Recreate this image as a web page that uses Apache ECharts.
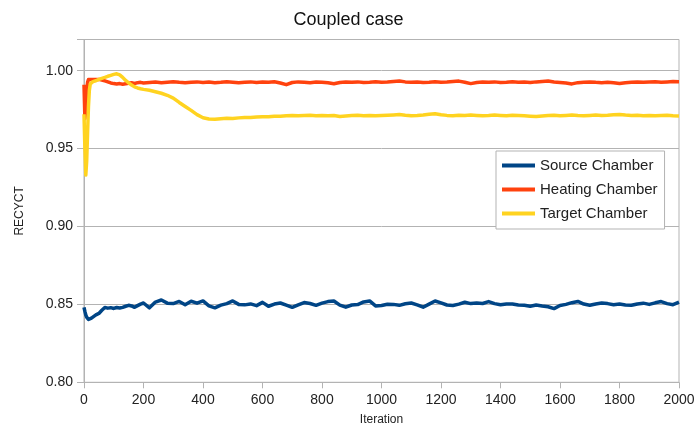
<!DOCTYPE html>
<html>
<head>
<meta charset="utf-8">
<script src="https://cdn.jsdelivr.net/npm/echarts@6/dist/echarts.min.js"></script>
<style>html,body{margin:0;padding:0;background:#fff;}#c{width:697px;height:426px;}</style>
</head>
<body>
<div id="c"></div>
<script>
const iterations = [0,3,6,9,12,15,18,21,25,30,40,50,60,70,80,90,100,110,120,130,140,150,160,170,180,190,200,
220,240,260,280,300,320,340,360,380,400,420,440,460,480,500,520,540,560,580,600,
620,640,660,680,700,720,740,760,780,800,820,840,860,880,900,920,940,960,980,1000,
1020,1040,1060,1080,1100,1120,1140,1160,1180,1200,1220,1240,1260,1280,1300,1320,1340,1360,1380,1400,
1420,1440,1460,1480,1500,1520,1540,1560,1580,1600,1620,1640,1660,1680,1700,1720,1740,1760,1780,1800,
1820,1840,1860,1880,1900,1920,1940,1960,1980,2000];

const sourceChamber = [0.8481,0.8455,0.8432,0.8418,0.8408,0.8403,0.8401,0.8403,0.8412,0.8422,0.8433,0.8442,0.8462,0.8480,0.8476,0.8479,0.8474,0.8480,0.8477,0.8481,0.8488,0.8494,0.8490,0.8481,0.8492,0.8502,0.8509,
0.8478,0.8515,0.8528,0.8508,0.8505,0.8519,0.8498,0.8520,0.8508,0.8522,
0.8490,0.8478,0.8495,0.8505,0.8522,0.8500,0.8497,0.8503,0.8492,0.8513,
0.8488,0.8502,0.8509,0.8495,0.8481,0.8497,0.8512,0.8506,0.8494,0.8508,
0.8518,0.8522,0.8495,0.8482,0.8496,0.8499,0.8516,0.8522,0.8490,0.8493,
0.8501,0.8500,0.8494,0.8504,0.8509,0.8497,0.8482,0.8502,0.8522,0.8510,
0.8496,0.8493,0.8502,0.8514,0.8505,0.8509,0.8506,0.8518,0.8505,0.8498,
0.8503,0.8502,0.8496,0.8494,0.8488,0.8496,0.8490,0.8485,0.8473,0.8493,
0.8500,0.8511,0.8519,0.8502,0.8494,0.8503,0.8509,0.8505,0.8498,0.8502,
0.8496,0.8494,0.8503,0.8508,0.8500,0.8510,0.8518,0.8505,0.8498,0.8514];

const heatingChamber = [0.9910,0.9692,0.9760,0.9870,0.9925,0.9943,0.9947,0.9946,0.9944,0.9945,0.9943,0.9944,0.9940,0.9934,0.9928,0.9921,0.9917,0.9914,0.9917,0.9913,0.9916,0.9919,0.9922,0.9918,0.9923,0.9925,0.9921,
0.9924,0.9927,0.9923,0.9926,0.9929,0.9925,0.9922,0.9926,0.9928,0.9924,
0.9927,0.9923,0.9925,0.9929,0.9926,0.9922,0.9925,0.9928,0.9924,0.9927,
0.9925,0.9929,0.9921,0.9910,0.9924,0.9928,0.9926,0.9923,0.9927,0.9925,
0.9922,0.9916,0.9924,0.9927,0.9925,0.9928,0.9924,0.9926,0.9929,0.9925,
0.9927,0.9931,0.9934,0.9928,0.9925,0.9927,0.9924,0.9926,0.9929,0.9925,
0.9927,0.9930,0.9933,0.9926,0.9917,0.9924,0.9927,0.9925,0.9928,0.9924,
0.9926,0.9929,0.9925,0.9927,0.9924,0.9928,0.9931,0.9933,0.9927,0.9924,
0.9921,0.9915,0.9923,0.9926,0.9928,0.9925,0.9923,0.9926,0.9922,0.9917,
0.9923,0.9926,0.9928,0.9925,0.9927,0.9929,0.9926,0.9928,0.9930,0.9929];

const targetChamber = [0.9720,0.9500,0.9330,0.9420,0.9600,0.9770,0.9875,0.9915,0.9925,0.9930,0.9935,0.9944,0.9951,0.9957,0.9964,0.9970,0.9976,0.9980,0.9973,0.9957,0.9937,0.9922,0.9908,0.9896,0.9889,0.9884,0.9880,
0.9874,0.9865,0.9855,0.9842,0.9824,0.9796,0.9770,0.9745,0.9718,0.9698,
0.9690,0.9688,0.9692,0.9695,0.9693,0.9697,0.9700,0.9699,0.9703,0.9705,
0.9704,0.9708,0.9707,0.9711,0.9713,0.9710,0.9712,0.9714,0.9711,0.9713,
0.9710,0.9712,0.9706,0.9709,0.9712,0.9714,0.9711,0.9713,0.9710,0.9712,
0.9714,0.9716,0.9718,0.9714,0.9711,0.9713,0.9716,0.9720,0.9724,0.9717,
0.9713,0.9711,0.9714,0.9712,0.9715,0.9713,0.9710,0.9712,0.9715,0.9713,
0.9711,0.9714,0.9712,0.9710,0.9708,0.9706,0.9709,0.9712,0.9714,0.9711,
0.9713,0.9715,0.9712,0.9710,0.9713,0.9715,0.9712,0.9714,0.9717,0.9719,
0.9715,0.9712,0.9714,0.9711,0.9713,0.9710,0.9712,0.9714,0.9711,0.9709];

const seriesNames = ['Source Chamber','Heating Chamber','Target Chamber'];
const seriesColors = ['#004586','#ff420e','#ffd320'];
const seriesValues = [sourceChamber, heatingChamber, targetChamber];

const FONT = 'Liberation Sans, Arial, sans-serif';
const chart = echarts.init(document.getElementById('c'), null, {renderer:'canvas'});
chart.setOption({
  animation: false,
  backgroundColor: '#fff',
  title: {
    text: 'Coupled case', left: 'center', top: 6,
    textStyle: {fontFamily: FONT, fontSize: 18, fontWeight: 'normal', color: '#111'}
  },
  legend: {
    orient: 'vertical', left: 496, top: 151,
    padding: [7, 7, 8, 6], itemGap: 9,
    itemWidth: 33, itemHeight: 4, icon: 'rect',
    borderColor: '#b3b3b3', borderWidth: 1, backgroundColor: '#fff',
    textStyle: {fontFamily: FONT, fontSize: 15, color: '#222', padding: [0,0,0,0]},
    data: seriesNames
  },
  grid: {left: 84, right: 18, top: 39.5, bottom: 43.7, show: true, borderColor: '#b3b3b3', borderWidth: 1,
         containLabel: false, outerBoundsMode: 'none'},
  xAxis: {
    type: 'value', min: 0, max: 2000, interval: 200,
    name: 'Iteration', nameLocation: 'middle', nameGap: 31,
    nameTextStyle: {fontFamily: FONT, fontSize: 12, color: '#222'},
    axisLine: {show: true, lineStyle: {color: '#b3b3b3'}},
    axisTick: {show: true, inside: false, length: 6, lineStyle: {color: '#b3b3b3'}},
    axisLabel: {fontFamily: FONT, fontSize: 14, color: '#222', margin: 11, formatter: v => String(v)},
    splitLine: {show: false}
  },
  yAxis: {
    type: 'value', min: 0.8, max: 1.02, interval: 0.05,
    name: 'RECYCT', nameLocation: 'middle', nameGap: 58, nameRotate: 90,
    nameTextStyle: {fontFamily: FONT, fontSize: 12, color: '#222'},
    axisLine: {show: true, lineStyle: {color: '#b3b3b3'}},
    axisTick: {show: true, inside: false, length: 7, lineStyle: {color: '#b3b3b3'}},
    axisLabel: {fontFamily: FONT, fontSize: 14, color: '#222', margin: 11,
      formatter: v => (v > 1.001 ? '' : v.toFixed(2))},
    splitLine: {show: true, lineStyle: {color: '#b3b3b3', width: 1}}
  },
  series: seriesNames.map((name, k) => ({
    name: name, type: 'line', showSymbol: false, symbol: 'none',
    color: seriesColors[k],
    lineStyle: {width: 3.5, color: seriesColors[k], join: 'round'},
    data: iterations.map((it, i) => [it, seriesValues[k][i]])
  }))
});
</script>
</body>
</html>
